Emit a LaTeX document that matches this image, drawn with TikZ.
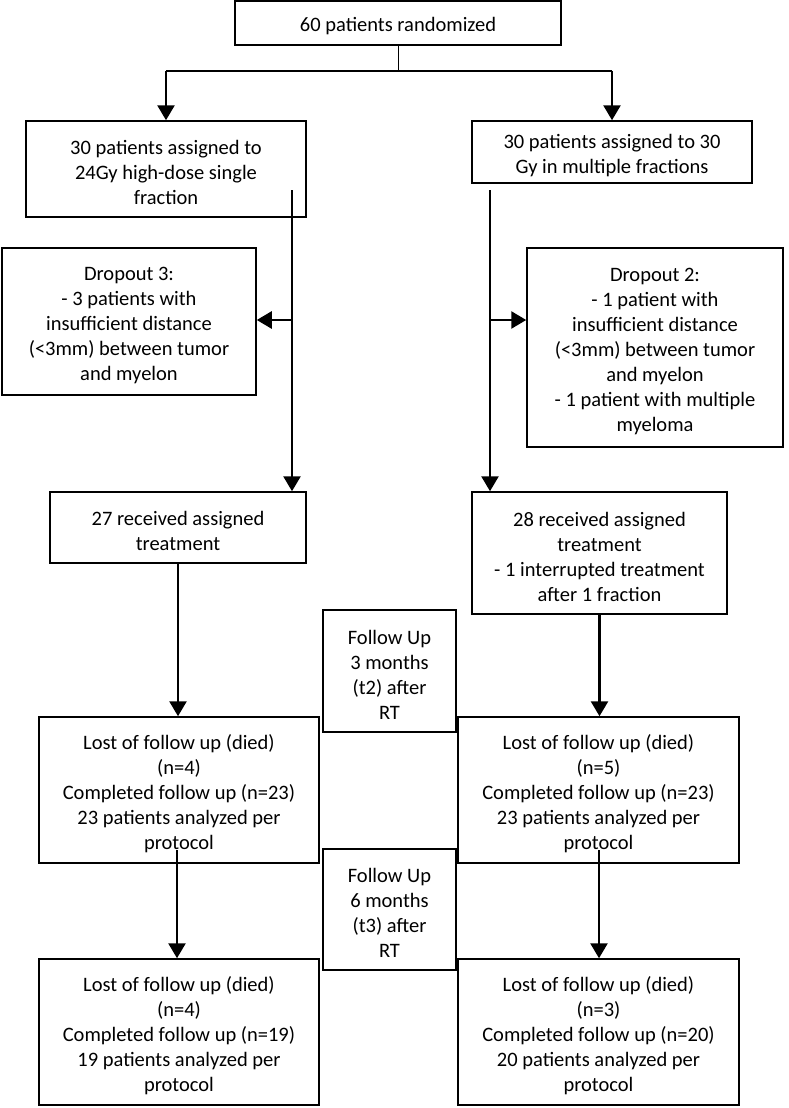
\documentclass[tikz,border=0pt]{standalone}
\usepackage{fontspec}
\setmainfont{Carlito}
\usetikzlibrary{arrows.meta}
\begin{document}
\begin{tikzpicture}[x=1pt,y=1pt,
  box/.style={draw, line width=1.5pt, inner sep=0pt},
  txt/.style={align=center, inner sep=0pt, yshift=-3.5pt,
    font=\fontsize{20.5}{25}\selectfont},
  conn/.style={line width=2.6pt},
  thinconn/.style={line width=1pt},
  arr/.style={conn, -{Triangle[length=15pt,width=17pt]}}]
\useasboundingbox (0,0) rectangle (788,-1108);

\node[box, minimum width=326, minimum height=44, label={[txt]center:60 patients randomized}] (top) at (398,-23) {};
\node[box, minimum width=280, minimum height=96, label={[txt]center:{30 patients assigned to\\24Gy high-dose single\\fraction}}] (A) at (166,-169) {};
\node[box, minimum width=280, minimum height=62, label={[txt]center:{30 patients assigned to 30\\Gy in multiple fractions}}] (B) at (612,-152) {};
\node[box, minimum width=254, minimum height=147, label={[txt]center:{Dropout 3:\\- 3 patients with\\insufficient distance\\(<3mm) between tumor\\and myelon}}] (D) at (129,-321.5) {};
\node[box, minimum width=256, minimum height=199, label={[txt]center:{Dropout 2:\\- 1 patient with\\insufficient distance\\(<3mm) between tumor\\and myelon\\- 1 patient with multiple\\myeloma}}] (E) at (655,-347.5) {};
\node[box, minimum width=256, minimum height=71, label={[txt]center:{27 received assigned\\treatment}}] (C) at (178,-527.5) {};
\node[box, minimum width=255, minimum height=122, label={[txt]center:{28 received assigned\\treatment\\- 1 interrupted treatment\\after 1 fraction}}] (F) at (599.5,-553) {};
\node[box, minimum width=133, minimum height=122, label={[txt]center:{Follow Up\\3 months\\(t2) after\\RT}}] (FU3) at (389.5,-671) {};
\node[box, minimum width=280, minimum height=146, label={[txt]center:{Lost of follow up (died)\\(n=4)\\Completed follow up (n=23)\\23 patients analyzed per\\protocol}}] (G) at (179,-790) {};
\node[box, minimum width=281, minimum height=146, label={[txt]center:{Lost of follow up (died)\\(n=5)\\Completed follow up (n=23)\\23 patients analyzed per\\protocol}}] (H) at (598.5,-790) {};
\node[box, minimum width=133, minimum height=121, label={[txt]center:{Follow Up\\6 months\\(t3) after\\RT}}] (FU6) at (389.5,-909.5) {};
\node[box, minimum width=280, minimum height=146, label={[txt]center:{Lost of follow up (died)\\(n=4)\\Completed follow up (n=19)\\19 patients analyzed per\\protocol}}] (I) at (179,-1032) {};
\node[box, minimum width=281, minimum height=146, label={[txt]center:{Lost of follow up (died)\\(n=3)\\Completed follow up (n=20)\\20 patients analyzed per\\protocol}}] (J) at (598.5,-1032) {};

% split from top
\coordinate (split) at (398,-71);
\draw[thinconn] (top.south) -- (split);
\draw[conn] (A.north |- split) -- (B.north |- split);
\draw[arr] (A.north |- split) -- (A.north);
\draw[arr] (B.north |- split) -- (B.north);

% left arm
\coordinate (l1) at (292,-190);
\coordinate (ld) at (292,-320);
\draw[arr] (l1) -- (l1 |- C.north);
\draw[arr] (ld) -- (D.east |- ld);

% right arm
\coordinate (r1) at (490,-190);
\coordinate (rd) at (490,-320);
\draw[arr] (r1) -- (r1 |- F.north);
\draw[arr] (rd) -- (E.west |- rd);

% follow ups
\draw[arr] (C.south) -- (C.south |- G.north);
\draw[arr] (F.south) -- (F.south |- H.north);
\coordinate (g1) at (177,-850);
\coordinate (h1) at (599,-850);
\draw[arr] (g1) -- (g1 |- I.north);
\draw[arr] (h1) -- (h1 |- J.north);
\end{tikzpicture}
\end{document}
